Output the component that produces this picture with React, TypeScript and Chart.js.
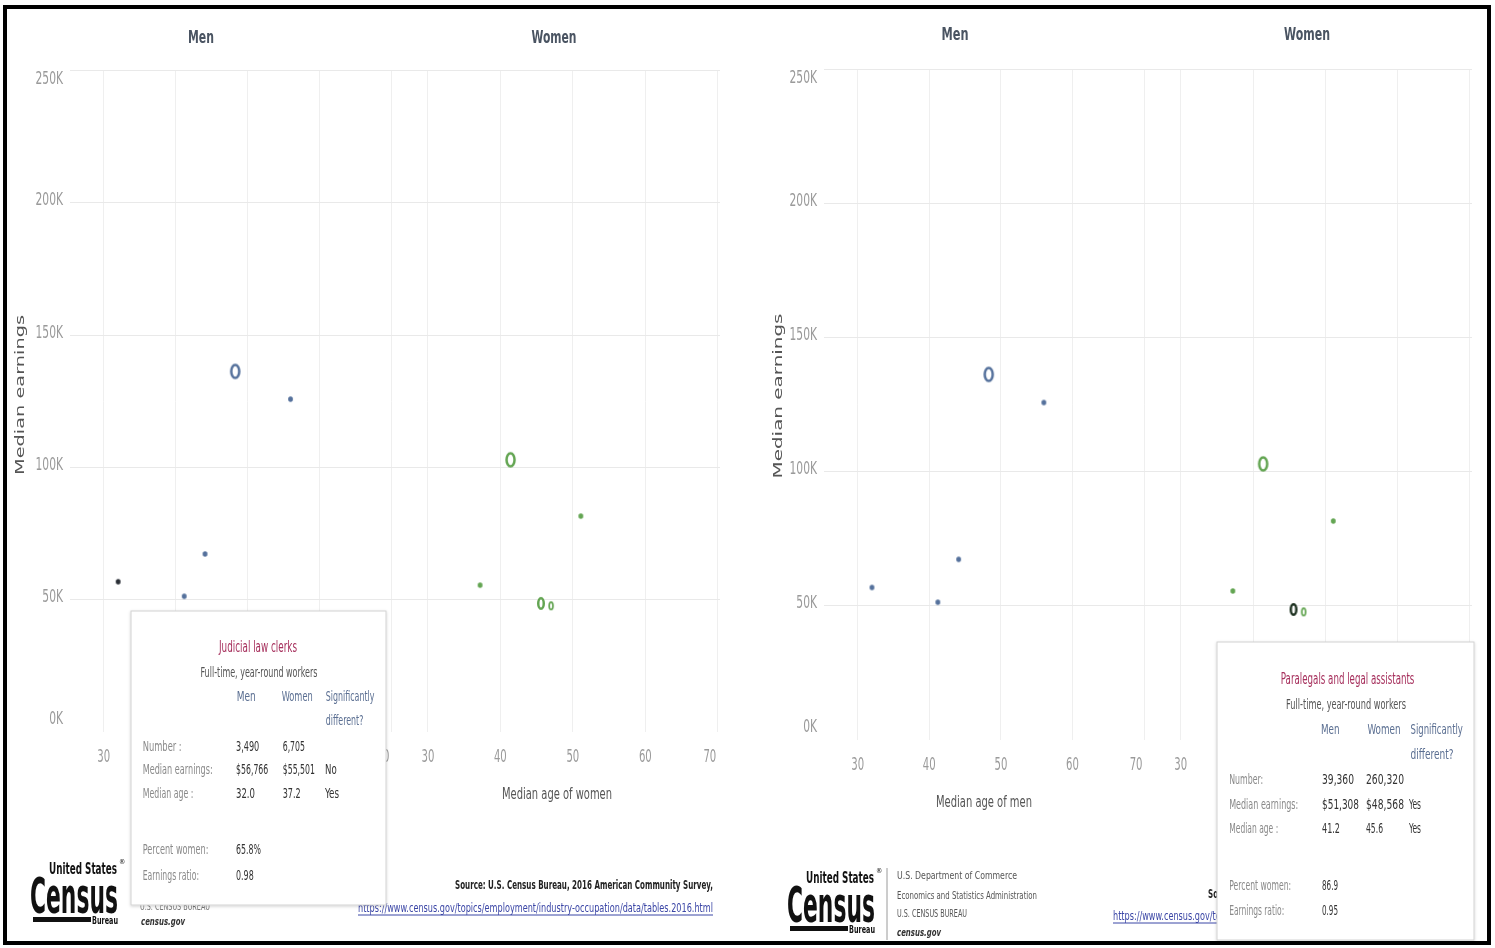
import React, { useEffect, useRef } from 'react';
import { Chart, registerables } from 'chart.js';
Chart.register(...registerables);

// ---------------- data ----------------
const occupations = [
  'Lawyers',
  'Judges, magistrates, and other judicial workers',
  'Judicial law clerks',
  'Miscellaneous legal support workers',
  'Paralegals and legal assistants',
];
const menAge = [48.3, 56.0, 32.0, 44.1, 41.2];
const menEarnings = [136.3, 125.8, 56.8, 67.3, 51.3]; // thousands of dollars
const womenAge = [41.4, 51.1, 37.2, 47.0, 45.6];
const womenEarnings = [102.9, 81.6, 55.5, 47.7, 48.6];
const menMarker = ['ringL', 'dot', 'dot', 'dot', 'dot'];
const womenMarker = ['ringL', 'dot', 'dot', 'ringS', 'ringM'];
const yTickValues = [0, 50, 100, 150, 200, 250];
const yTickLabels = ['0K', '50K', '100K', '150K', '200K', '250K'];
const xTickValues = [30, 40, 50, 60, 70];

const tooltipHeaders = ['Men', 'Women', 'Significantly', 'different?'];
const leftTooltipTitle = 'Judicial law clerks';
const leftTooltipRows = [
  ['Number :', '3,490', '6,705', ''],
  ['Median earnings:', '$56,766', '$55,501', 'No'],
  ['Median age :', '32.0', '37.2', 'Yes'],
];
const leftTooltipExtra = [['Percent women:', '65.8%'], ['Earnings ratio:', '0.98']];

const rightTooltipTitle = 'Paralegals and legal assistants';
const rightTooltipRows = [
  ['Number:', '39,360', '260,320', ''],
  ['Median earnings:', '$51,308', '$48,568', 'Yes'],
  ['Median age :', '41.2', '45.6', 'Yes'],
];
const rightTooltipExtra = [['Percent women:', '86.9'], ['Earnings ratio:', '0.95']];

// ---------------- styling ----------------
const FONT = "'Liberation Sans Narrow','Arial Narrow','DejaVu Sans Condensed',sans-serif";
const BLUE = '#55719c';
const GREEN = '#63a552';
const DARK_MEN = '#2a2e36';
const DARK_WOMEN = '#1f3322';

const MARKER_SPEC: any = {
  ringL: { w: 10.5, h: 15.5, lw: 2.5, fill: false },
  ringM: { w: 8, h: 13, lw: 2.5, fill: false },
  ringS: { w: 5.5, h: 9, lw: 1.7, fill: false },
  dot: { w: 4.8, h: 5.6, lw: 0, fill: true },
};

function makeMarker(kind: string, color: string) {
  const s = MARKER_SPEC[kind];
  const c = document.createElement('canvas');
  const W = Math.ceil(s.w + 4);
  const H = Math.ceil(s.h + 4);
  c.width = W;
  c.height = H;
  const ctx = c.getContext('2d')!;
  ctx.beginPath();
  const rx = s.fill ? s.w / 2 : (s.w - s.lw) / 2;
  const ry = s.fill ? s.h / 2 : (s.h - s.lw) / 2;
  ctx.ellipse(W / 2, H / 2, rx, ry, 0, 0, Math.PI * 2);
  if (s.fill) {
    ctx.fillStyle = color;
    ctx.fill();
  } else {
    ctx.strokeStyle = color;
    ctx.lineWidth = s.lw;
    ctx.stroke();
  }
  return c;
}

// condensed text on canvas (compress horizontally using maxWidth)
function narrowText(ctx: any, text: string, x: number, y: number, squeeze: number) {
  const w = ctx.measureText(text).width;
  ctx.fillText(text, x, y, w * squeeze);
}

const tickLabelPlugin = {
  id: 'tickLabels',
  afterDraw(chart: any) {
    const { ctx, chartArea } = chart;
    const y = chart.scales.y;
    ctx.save();
    ctx.fillStyle = '#9a9a9a';
    ctx.font = `17px ${FONT}`;
    ctx.textAlign = 'right';
    ctx.textBaseline = 'middle';
    yTickValues.forEach((v, i) => {
      let py = y.getPixelForValue(v);
      if (i === 0) py -= 12;
      else if (i === yTickValues.length - 1) py += 9;
      else py -= 2;
      narrowText(ctx, yTickLabels[i], chartArea.left - 7, py, 0.7);
    });
    ctx.font = `17px ${FONT}`;
    ctx.textAlign = 'center';
    ['xm', 'xw'].forEach((id) => {
      const s = chart.scales[id];
      xTickValues.forEach((v, i) => {
        let px = s.getPixelForValue(v);
        if (i === xTickValues.length - 1) px -= 8;
        narrowText(ctx, String(v), px, chartArea.bottom + 26, 0.66);
      });
    });
    ctx.restore();
  },
};

type PanelCfg = {
  width: number;
  height: number;
  padding: { top: number; right: number; bottom: number; left: number };
  yAxisWidth: number;
  menHighlight: number;
  womenHighlight: number;
};

function buildConfig(p: PanelCfg): any {
  const menStyles = menMarker.map((k, i) => makeMarker(k, i === p.menHighlight ? DARK_MEN : BLUE));
  const womenStyles = womenMarker.map((k, i) => makeMarker(k, i === p.womenHighlight ? DARK_WOMEN : GREEN));
  const gridX = { color: '#efefef', lineWidth: 1, drawTicks: false };
  const xCommon = {
    type: 'linear',
    position: 'bottom',
    stack: 'ages',
    afterBuildTicks: (s: any) => {
      s.ticks = xTickValues.map((v) => ({ value: v }));
    },
    ticks: { display: false },
    grid: gridX,
    border: { display: false },
    afterFit: (s: any) => {
      s.height = 30;
    },
  };
  return {
    type: 'scatter',
    data: {
      datasets: [
        {
          label: 'Men',
          xAxisID: 'xm',
          yAxisID: 'y',
          data: menAge.map((a, i) => ({ x: a, y: menEarnings[i], occ: occupations[i] })),
          pointStyle: menStyles,
          pointRadius: 5,
        },
        {
          label: 'Women',
          xAxisID: 'xw',
          yAxisID: 'y',
          data: womenAge.map((a, i) => ({ x: a, y: womenEarnings[i], occ: occupations[i] })),
          pointStyle: womenStyles,
          pointRadius: 5,
        },
      ],
    },
    options: {
      animation: false,
      responsive: false,
      maintainAspectRatio: false,
      events: [],
      layout: { padding: p.padding },
      plugins: { legend: { display: false }, tooltip: { enabled: false }, title: { display: false } },
      scales: {
        xm: { ...xCommon, stackWeight: 338, min: 25.3, max: 72.5 },
        xw: { ...xCommon, stackWeight: 310, min: 27.4, max: 70.3 },
        y: {
          type: 'linear',
          position: 'left',
          min: 0,
          max: 250,
          afterBuildTicks: (s: any) => {
            s.ticks = yTickValues.map((v) => ({ value: v }));
          },
          ticks: { display: false },
          grid: {
            color: (c: any) => (c.tick && c.tick.value === 0 ? 'rgba(0,0,0,0)' : '#e9e9e9'),
            lineWidth: 1,
            drawTicks: false,
          },
          border: { display: false },
          afterFit: (s: any) => {
            s.width = p.yAxisWidth;
          },
        },
      },
    },
    plugins: [tickLabelPlugin],
  };
}

function ChartPanel({ left, cfg }: { left: number; cfg: PanelCfg }) {
  const ref = useRef<HTMLCanvasElement>(null);
  useEffect(() => {
    if (!ref.current) return;
    const chart = new Chart(ref.current, buildConfig(cfg));
    return () => chart.destroy();
  }, []);
  return (
    <canvas
      ref={ref}
      width={cfg.width}
      height={cfg.height}
      style={{ position: 'absolute', left, top: 0, width: cfg.width, height: cfg.height, display: 'block' }}
    />
  );
}

// ---------------- text helpers ----------------
function T(props: any) {
  const { x, y, size = 12, fill = '#333', anchor = 'start', weight = 'normal', len, italic, font = FONT, baseline = 'central', children, transform } = props;
  return (
    <text
      x={x}
      y={y}
      fontSize={size}
      fill={fill}
      textAnchor={anchor}
      fontWeight={weight}
      fontStyle={italic ? 'italic' : 'normal'}
      dominantBaseline={baseline}
      fontFamily={font}
      textLength={len}
      lengthAdjust={len ? 'spacingAndGlyphs' : undefined}
      transform={transform}
    >
      {children}
    </text>
  );
}

// layout of each tooltip: offsets relative to its box, and the measured text widths
const leftTipLayout = {
  title: [127, 35, 78], sub: [128, 61, 117],
  hdrY: 85, difY: 109,
  hdr: [[105.7, 19], [150.7, 31], [194.7, 48.7], [194.7, 37.7]],
  rowY: [135, 158.3, 182.3], extraY: [238.3, 264],
  lblX: 11.7, c1: 105, c2: 151.7, c3: 194,
  lblW: [39, 70, 50.7], extraLblW: [65.7, 56.3],
  valW: [[23.3, 22.3, 0], [32.3, 32.3, 11.7], [19, 18, 14]], extraValW: [25, 17.7],
};
const rightTipLayout = {
  title: [130.6, 36, 133.6], sub: [129, 62, 120],
  hdrY: 87, difY: 111.5,
  hdr: [[104, 18.5], [150.5, 33], [193.5, 52.4], [193.5, 43]],
  rowY: [136.5, 161.5, 186], extraY: [243, 268],
  lblX: 12.2, c1: 105, c2: 149, c3: 192,
  lblW: [34, 69, 49], extraLblW: [62, 55],
  valW: [[32, 38, 0], [37, 38, 12], [18, 17, 12]], extraValW: [16, 16],
};

function Tip({ x, y, w, h, title, rows, extra, L }: any) {
  const LBL = '#8a8a8a';
  const VAL = '#333';
  const HDR = '#5b6f92';
  const S = 14.5;
  return (
    <g>
      <rect x={x} y={y} width={w} height={h} fill="#ffffff" stroke="#d2d2d2" strokeWidth={1} filter="url(#tipShadow)" />
      <T x={x + L.title[0]} y={y + L.title[1]} size={16.5} fill="#a62f5c" anchor="middle" len={L.title[2]}>{title}</T>
      <T x={x + L.sub[0]} y={y + L.sub[1]} size={14} fill="#555" anchor="middle" len={L.sub[2]}>Full-time, year-round workers</T>
      {tooltipHeaders.map((hd, i) => (
        <T key={hd} x={x + L.hdr[i][0]} y={y + (i === 3 ? L.difY : L.hdrY)} size={S} fill={HDR} len={L.hdr[i][1]}>{hd}</T>
      ))}
      {rows.map((r: string[], i: number) => (
        <g key={i}>
          <T x={x + L.lblX} y={y + L.rowY[i]} size={S} fill={LBL} len={L.lblW[i]}>{r[0]}</T>
          <T x={x + L.c1} y={y + L.rowY[i]} size={S} fill={VAL} len={L.valW[i][0]}>{r[1]}</T>
          <T x={x + L.c2} y={y + L.rowY[i]} size={S} fill={VAL} len={L.valW[i][1]}>{r[2]}</T>
          {r[3] ? <T x={x + L.c3} y={y + L.rowY[i]} size={S} fill={VAL} len={L.valW[i][2]}>{r[3]}</T> : null}
        </g>
      ))}
      {extra.map((r: string[], i: number) => (
        <g key={'e' + i}>
          <T x={x + L.lblX} y={y + L.extraY[i]} size={S} fill={LBL} len={L.extraLblW[i]}>{r[0]}</T>
          <T x={x + L.c1} y={y + L.extraY[i]} size={S} fill={VAL} len={L.extraValW[i]}>{r[1]}</T>
        </g>
      ))}
    </g>
  );
}

function CensusLogo({ x, y }: { x: number; y: number }) {
  // x = left of "Census", y = baseline of "Census"
  return (
    <g>
      <T x={x + 19} y={y - 45} size={16} weight="bold" fill="#111" len={68}>United States</T>
      <T x={x + 89} y={y - 51} size={7} fill="#111">®</T>
      <T x={x} y={y} size={50} weight="bold" fill="#111" baseline="auto" len={88}>Census</T>
      <rect x={x + 3} y={y + 4} width={58} height={5} fill="#111" />
      <T x={x + 62} y={y + 7} size={10} weight="bold" fill="#111" len={26}>Bureau</T>
    </g>
  );
}

function Overlay() {
  const AX = '#555';
  return (
    <svg width={1495} height={948} style={{ position: 'absolute', left: 0, top: 0, pointerEvents: 'none' }}>
      <defs>
        <filter id="tipShadow" x="-10%" y="-10%" width="120%" height="120%">
          <feDropShadow dx="0" dy="1" stdDeviation="1.5" floodColor="#000" floodOpacity="0.18" />
        </filter>
      </defs>

      {/* ---------- left dashboard ---------- */}
      <T x={201} y={37} size={17} weight="bold" fill="#4a5462" anchor="middle" len={26}>Men</T>
      <T x={554} y={37} size={17} weight="bold" fill="#4a5462" anchor="middle" len={45}>Women</T>
      <T x={20} y={395} size={12} fill={AX} anchor="middle" font="'DejaVu Sans',sans-serif" len={160} transform="rotate(-90 20 395)">Median earnings</T>
      <T x={230} y={794} size={15} fill={AX} anchor="middle" len={96}>Median age of men</T>
      <T x={557} y={794} size={15} fill={AX} anchor="middle" len={110}>Median age of women</T>

      <CensusLogo x={30} y={913} />
      <T x={140} y={866} size={11} fill="#555" len={120}>U.S. Department of Commerce</T>
      <T x={140} y={886} size={11} fill="#555" len={140}>Economics and Statistics Administration</T>
      <T x={140} y={906} size={10} fill="#777" len={70}>U.S. CENSUS BUREAU</T>
      <T x={141} y={921} size={11} weight="bold" italic fill="#333" len={44}>census.gov</T>

      <T x={713} y={884} size={12.5} weight="bold" fill="#222" anchor="end" len={258}>Source: U.S. Census Bureau, 2016 American Community Survey,</T>
      <T x={358} y={908} size={12} fill="#3b46a6" len={355}>https://www.census.gov/topics/employment/industry-occupation/data/tables.2016.html</T>
      <line x1={358} y1={915} x2={713} y2={915} stroke="#3b46a6" strokeWidth={1} />

      <Tip x={131} y={611} w={255} h={294} title={leftTooltipTitle} rows={leftTooltipRows} extra={leftTooltipExtra} L={leftTipLayout} />

      {/* ---------- right dashboard ---------- */}
      <T x={955} y={34} size={17} weight="bold" fill="#4a5462" anchor="middle" len={27}>Men</T>
      <T x={1307} y={34} size={17} weight="bold" fill="#4a5462" anchor="middle" len={46}>Women</T>
      <T x={778} y={396} size={12} fill={AX} anchor="middle" font="'DejaVu Sans',sans-serif" len={165} transform="rotate(-90 778 396)">Median earnings</T>
      <T x={984} y={802} size={15} fill={AX} anchor="middle" len={96}>Median age of men</T>
      <T x={1316} y={802} size={15} fill={AX} anchor="middle" len={110}>Median age of women</T>

      <CensusLogo x={787} y={922} />
      <line x1={887} y1={868} x2={887} y2={940} stroke="#9a9a9a" strokeWidth={1} />
      <T x={897} y={875} size={11} fill="#555" len={120}>U.S. Department of Commerce</T>
      <T x={897} y={895} size={11} fill="#555" len={140}>Economics and Statistics Administration</T>
      <T x={897} y={913} size={10} fill="#555" len={70}>U.S. CENSUS BUREAU</T>
      <T x={897} y={932} size={11} weight="bold" italic fill="#333" len={44}>census.gov</T>

      <T x={1466} y={893} size={12.5} weight="bold" fill="#222" anchor="end" len={258}>Source: U.S. Census Bureau, 2016 American Community Survey,</T>
      <T x={1113} y={916} size={12} fill="#3b46a6" len={355}>https://www.census.gov/topics/employment/industry-occupation/data/tables.2016.html</T>
      <line x1={1113} y1={923} x2={1468} y2={923} stroke="#3b46a6" strokeWidth={1} />

      <Tip x={1217} y={642} w={257} h={298} title={rightTooltipTitle} rows={rightTooltipRows} extra={rightTooltipExtra} L={rightTipLayout} />

      {/* frame */}
      <rect x={5} y={7} width={1484} height={936} fill="none" stroke="#000" strokeWidth={4} />
    </svg>
  );
}

const leftCfg: PanelCfg = {
  width: 757,
  height: 948,
  padding: { top: 70.6, right: 757 - 720, bottom: 948 - 732 - 30, left: 0 },
  yAxisWidth: 70,
  menHighlight: 2,
  womenHighlight: -1,
};
const rightCfg: PanelCfg = {
  width: 738,
  height: 948,
  padding: { top: 69.7, right: 738 - (1472 - 757), bottom: 948 - 739.7 - 30, left: 0 },
  yAxisWidth: 824 - 757,
  menHighlight: -1,
  womenHighlight: 4,
};

export default function App() {
  return (
    <div style={{ position: 'absolute', left: 0, top: 0, width: 1495, height: 948, background: '#fff', overflow: 'hidden' }}>
      <ChartPanel left={0} cfg={leftCfg} />
      <ChartPanel left={757} cfg={rightCfg} />
      <Overlay />
    </div>
  );
}
